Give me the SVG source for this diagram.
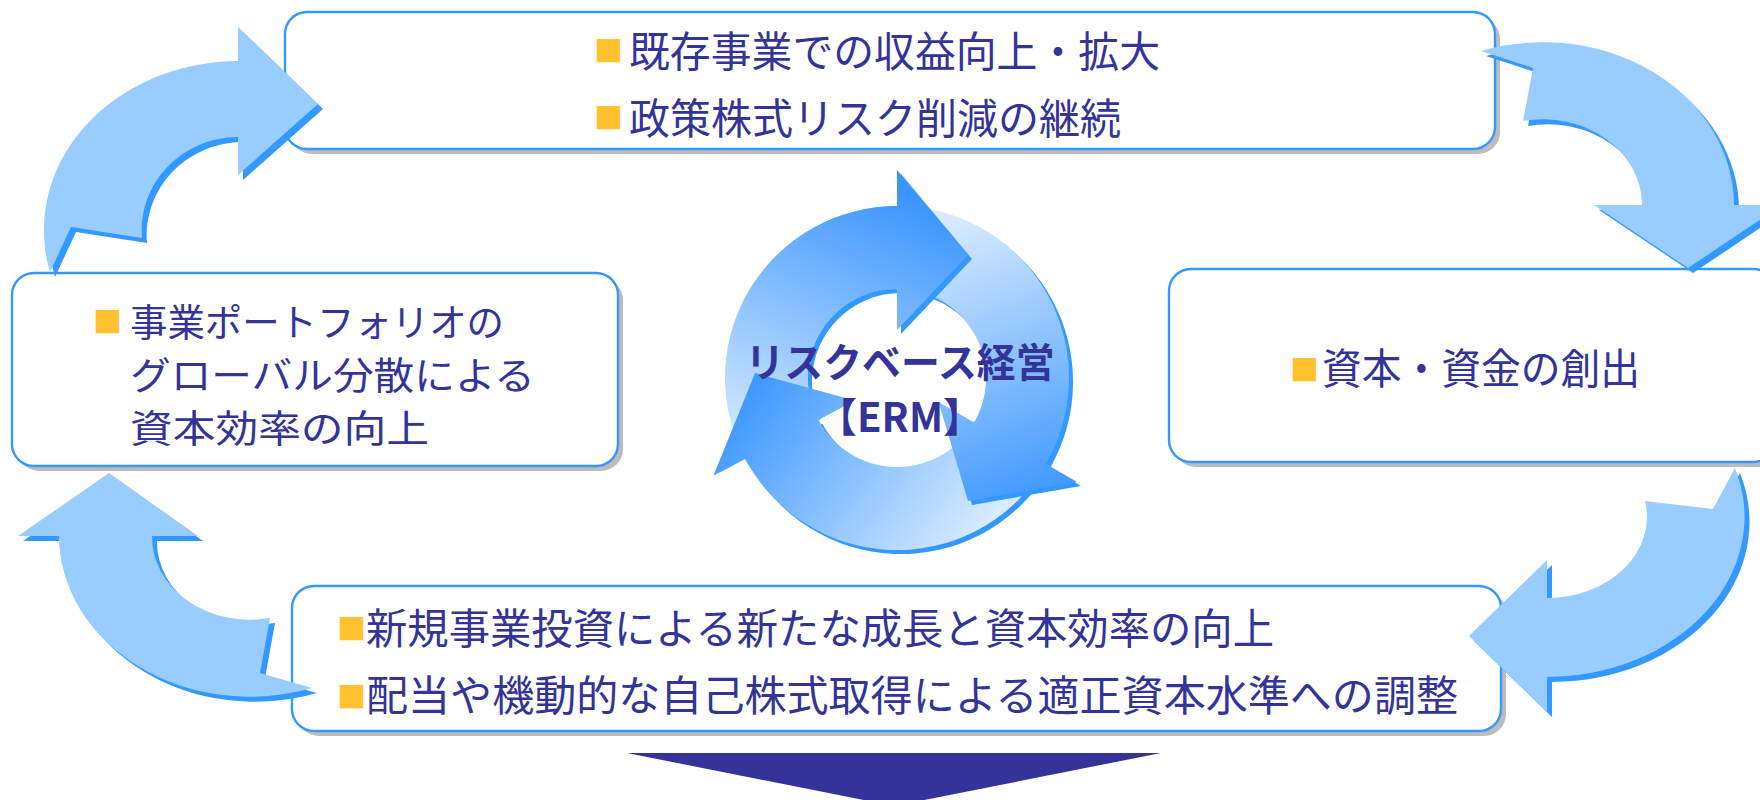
<svg xmlns="http://www.w3.org/2000/svg" width="1760" height="800" viewBox="0 0 1760 800">
<defs>
<style>
.box{fill:#ffffff;stroke:#3399ff;stroke-width:2.4}
.shd{fill:#bcbcbc}
.t{font-family:"Noto Sans CJK JP","Noto Sans CJK SC",sans-serif;font-size:42px;fill:#333399}
.tl{font-family:"Noto Sans CJK JP","Noto Sans CJK SC",sans-serif;font-size:37.5px;fill:#333399}
.c{font-family:"Noto Sans CJK JP","Noto Sans CJK SC",sans-serif;font-size:40px;font-weight:bold;fill:#333399}
.b{font-family:"Noto Sans CJK JP","Noto Sans CJK SC",sans-serif;font-size:29px;fill:#ffc12e}
.ca{fill:#99ccff}
.cs{fill:#3399ff}
.rs{fill:#3399ff}
</style>
<linearGradient id="g1" gradientUnits="userSpaceOnUse" x1="790" y1="470" x2="905" y2="195">
<stop offset="0" stop-color="#d8ebff"/><stop offset="1" stop-color="#3a96ff"/>
</linearGradient>
<linearGradient id="g2" gradientUnits="userSpaceOnUse" x1="950" y1="220" x2="1060" y2="500">
<stop offset="0" stop-color="#d8ebff"/><stop offset="1" stop-color="#3a96ff"/>
</linearGradient>
<linearGradient id="g3" gradientUnits="userSpaceOnUse" x1="960" y1="560" x2="740" y2="390">
<stop offset="0" stop-color="#d8ebff"/><stop offset="1" stop-color="#3a96ff"/>
</linearGradient>
<clipPath id="h3clip"><polygon points="632,519 1162,237 1021,-28 491,254"/></clipPath>
</defs>
<rect width="1760" height="800" fill="#ffffff"/>

<g id="node-top">
<rect class="shd" x="290" y="17" width="1210" height="137" rx="22"/>
<rect class="box" x="285" y="12" width="1210" height="137" rx="22"/>
<text class="b" x="594" y="61.5">■</text>
<text class="t" x="629" y="67" textLength="531" lengthAdjust="spacingAndGlyphs">既存事業での収益向上・拡大</text>
<text class="b" x="594" y="128.5">■</text>
<text class="t" x="629" y="134" textLength="492" lengthAdjust="spacingAndGlyphs">政策株式リスク削減の継続</text>
</g>

<g id="node-left">
<rect class="shd" x="17" y="278" width="606" height="193" rx="22"/>
<rect class="box" x="12" y="273" width="606" height="193" rx="22"/>
<text class="b" x="93" y="332.5">■</text>
<text class="tl"><tspan x="130" y="336" textLength="374" lengthAdjust="spacingAndGlyphs">事業ポートフォリオの</tspan><tspan x="130" y="389" textLength="405" lengthAdjust="spacingAndGlyphs">グローバル分散による</tspan><tspan x="130" y="442" textLength="299" lengthAdjust="spacingAndGlyphs">資本効率の向上</tspan></text>
</g>

<g id="node-right">
<rect class="shd" x="1174" y="274" width="606" height="193" rx="22"/>
<rect class="box" x="1169" y="269" width="606" height="193" rx="22"/>
<text class="b" x="1290" y="380.5">■</text>
<text class="t" x="1322" y="384" textLength="318" lengthAdjust="spacingAndGlyphs">資本・資金の創出</text>
</g>

<g id="node-bottom">
<rect class="shd" x="297" y="591" width="1209" height="145" rx="22"/>
<rect class="box" x="292" y="586" width="1209" height="145" rx="22"/>
<text class="b" x="337" y="639.5">■</text>
<text class="t" x="366" y="644" textLength="908" lengthAdjust="spacingAndGlyphs">新規事業投資による新たな成長と資本効率の向上</text>
<text class="b" x="337" y="707.5">■</text>
<text class="t" x="366" y="711" textLength="1092" lengthAdjust="spacingAndGlyphs">配当や機動的な自己株式取得による適正資本水準への調整</text>
</g>

<g id="node-erm">
<g transform="translate(4,4)" class="rs">
<path d="M741.1,450.7 A172,172 0 0 1 897,206 L897,289 A89,89 0 0 0 816.3,415.6 Z"/>
<path d="M906,206.2 A172,172 0 0 1 1046,464 L974.1,422.5 A89,89 0 0 0 901.7,289.1 Z"/>
<path d="M1041.3,471.7 A172,172 0 0 1 745.1,458.8 L818.4,419.8 A89,89 0 0 0 971.6,426.5 Z"/>
</g>
<path fill="url(#g1)" d="M741.1,450.7 A172,172 0 0 1 897,206 L897,289 A89,89 0 0 0 816.3,415.6 Z"/>
<path fill="url(#g2)" d="M906,206.2 A172,172 0 0 1 1046,464 L974.1,422.5 A89,89 0 0 0 901.7,289.1 Z"/>
<path fill="url(#g3)" d="M1041.3,471.7 A172,172 0 0 1 745.1,458.8 L818.4,419.8 A89,89 0 0 0 971.6,426.5 Z"/>
<path class="rs" transform="translate(4,4)" d="M897,170 L968,255 L897,330 L897,289 L893.9,289.1 L891,206.1 L897,206 Z"/>
<path fill="url(#g1)" d="M897,170 L968,255 L897,330 L897,289 L893.9,289.1 L891,206.1 L897,206 Z"/>
<path class="rs" transform="translate(4,4)" d="M1077.1,482 L968,501 L938.6,402 L974.1,422.5 L975.6,419.8 L1048.9,458.8 L1046,464 Z"/>
<path fill="url(#g2)" d="M1077.1,482 L968,501 L938.6,402 L974.1,422.5 L975.6,419.8 L1048.9,458.8 L1046,464 Z"/>
<g clip-path="url(#h3clip)"><path class="rs" transform="translate(4,4)" d="M713.4,475.7 L755.1,373 L854.6,400.5 L818.4,419.8 L819.9,422.5 L748,464 L745.1,458.8 Z"/></g>
<path fill="url(#g3)" d="M713.4,475.7 L755.1,373 L854.6,400.5 L818.4,419.8 L819.9,422.5 L748,464 L745.1,458.8 Z"/>
<text class="c" x="900" y="377" text-anchor="middle" textLength="309" lengthAdjust="spacingAndGlyphs">リスクベース経営</text>
<text class="c" x="900" y="432" text-anchor="middle">【ERM】</text>
</g>

<g id="connectors">
<g transform="translate(5,5)" class="cs">
<path d="M50,272 A195,169 0 0 1 238,61 L238,27 L318,104 L238,175 L238,137 A97,93 0 0 0 142,238 L71,227 Z"/>
<path d="M1481,51 A191,163 0 0 1 1734,205 L1782,205 L1688,268 L1594,205 L1642,205 A99,86 0 0 0 1523,121 L1533,68 Z"/>
<path d="M1735,468 A198,160 0 0 1 1547,677 L1547,712 L1469,636 L1547,560 L1547,598 A100,81 0 0 0 1645,501 L1713,509 Z"/>
<path d="M312,688 A191,161 0 0 1 59,536 L18,536 L109,473 L198,536 L152,536 A98,83 0 0 0 270,618 L260,673 Z"/>
</g>
<path id="arrow-tl" class="ca" d="M50,272 A195,169 0 0 1 238,61 L238,27 L318,104 L238,175 L238,137 A97,93 0 0 0 142,238 L71,227 Z"/>
<path id="arrow-tr" class="ca" d="M1481,51 A191,163 0 0 1 1734,205 L1782,205 L1688,268 L1594,205 L1642,205 A99,86 0 0 0 1523,121 L1533,68 Z"/>
<path id="arrow-br" class="ca" d="M1735,468 A198,160 0 0 1 1547,677 L1547,712 L1469,636 L1547,560 L1547,598 A100,81 0 0 0 1645,501 L1713,509 Z"/>
<path id="arrow-bl" class="ca" d="M312,688 A191,161 0 0 1 59,536 L18,536 L109,473 L198,536 L152,536 A98,83 0 0 0 270,618 L260,673 Z"/>
<polygon id="arrow-down" points="627,753 1161,753 894,806" fill="#333399"/>
</g>
</svg>
